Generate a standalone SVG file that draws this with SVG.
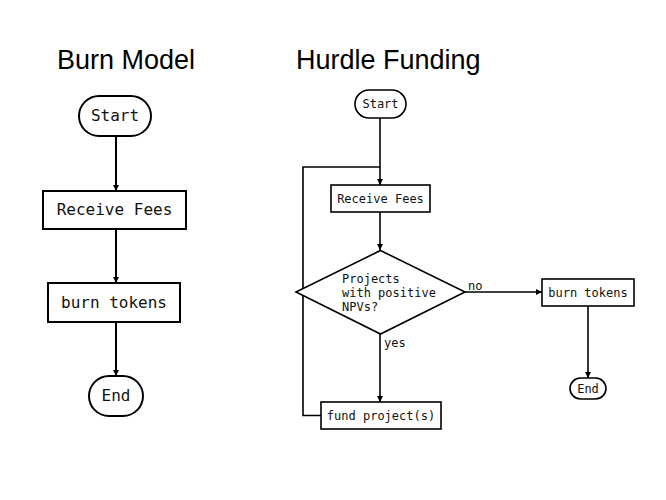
<svg xmlns="http://www.w3.org/2000/svg" width="666" height="500" viewBox="0 0 666 500">
<style>
.t{font-family:"Liberation Sans",Arial,sans-serif;font-size:27px;fill:#000}
.m{font-family:"DejaVu Sans Mono","Liberation Mono",monospace;fill:#111}
.b{font-size:16px}
.s{font-size:12px}
.n{fill:#fff;stroke:#000;stroke-width:2}
.n2{fill:#fff;stroke:#000;stroke-width:1.6}
.c{fill:none;stroke:#000;stroke-width:2}
.c2{fill:none;stroke:#000;stroke-width:1.6}
</style>
<defs>
<marker id="a" viewBox="0 0 6 6" refX="6" refY="3" markerWidth="6" markerHeight="6" markerUnits="userSpaceOnUse" orient="auto"><path d="M0,0L6,3L0,6z" fill="#000"/></marker>
</defs>
<rect width="666" height="500" fill="#fff"/>
<text class="t" x="57" y="69">Burn Model</text>
<text class="t" x="296" y="69">Hurdle Funding</text>
<g id="connectors">
<path class="c" d="M116,136V191" marker-end="url(#a)"/>
<path class="c" d="M116,229V283" marker-end="url(#a)"/>
<path class="c" d="M116,322V376" marker-end="url(#a)"/>
<path class="c2" d="M380,118V185" marker-end="url(#a)"/>
<path class="c2" d="M380,212V250" marker-end="url(#a)"/>
<path class="c2" d="M380,334V402" marker-end="url(#a)"/>
<path class="c2" d="M465,292H542" marker-end="url(#a)"/>
<path class="c2" d="M588,306V378" marker-end="url(#a)"/>
<path class="c2" d="M321,415.5H303V167H380"/>
<text class="m s" x="468" y="290">no</text>
<text class="m s" x="384" y="347">yes</text>
</g>
<g id="l-start"><rect class="n" x="79" y="96" width="72" height="40" rx="20"/><text class="m b" x="115" y="121" text-anchor="middle">Start</text></g>
<g id="l-fees"><rect class="n" x="43" y="191" width="143" height="38"/><text class="m b" x="114.5" y="215" text-anchor="middle">Receive Fees</text></g>
<g id="l-burn"><rect class="n" x="48" y="283" width="132" height="39"/><text class="m b" x="114" y="308" text-anchor="middle">burn tokens</text></g>
<g id="l-end"><rect class="n" x="89" y="376" width="54" height="40" rx="20"/><text class="m b" x="116" y="401" text-anchor="middle">End</text></g>
<g id="r-start"><rect class="n2" x="355" y="90" width="51" height="28" rx="14"/><text class="m s" x="380.5" y="108" text-anchor="middle">Start</text></g>
<g id="r-fees"><rect class="n2" x="331" y="185" width="99" height="27"/><text class="m s" x="380.5" y="203" text-anchor="middle">Receive Fees</text></g>
<g id="r-decision"><path class="n2" d="M380.5,250.5L465,292L380.5,334L296,292z"/><text class="m s" x="342"><tspan x="342" y="283">Projects</tspan><tspan x="342" y="297">with positive</tspan><tspan x="342" y="311">NPVs?</tspan></text></g>
<g id="r-fund"><rect class="n2" x="321" y="402" width="120" height="27"/><text class="m s" x="381" y="420" text-anchor="middle">fund project(s)</text></g>
<g id="r-burn"><rect class="n2" x="542" y="279" width="92" height="27"/><text class="m s" x="588" y="297" text-anchor="middle">burn tokens</text></g>
<g id="r-end"><rect class="n2" x="570" y="378" width="36" height="21" rx="10.5"/><text class="m s" x="588" y="392.5" text-anchor="middle">End</text></g>
</svg>
